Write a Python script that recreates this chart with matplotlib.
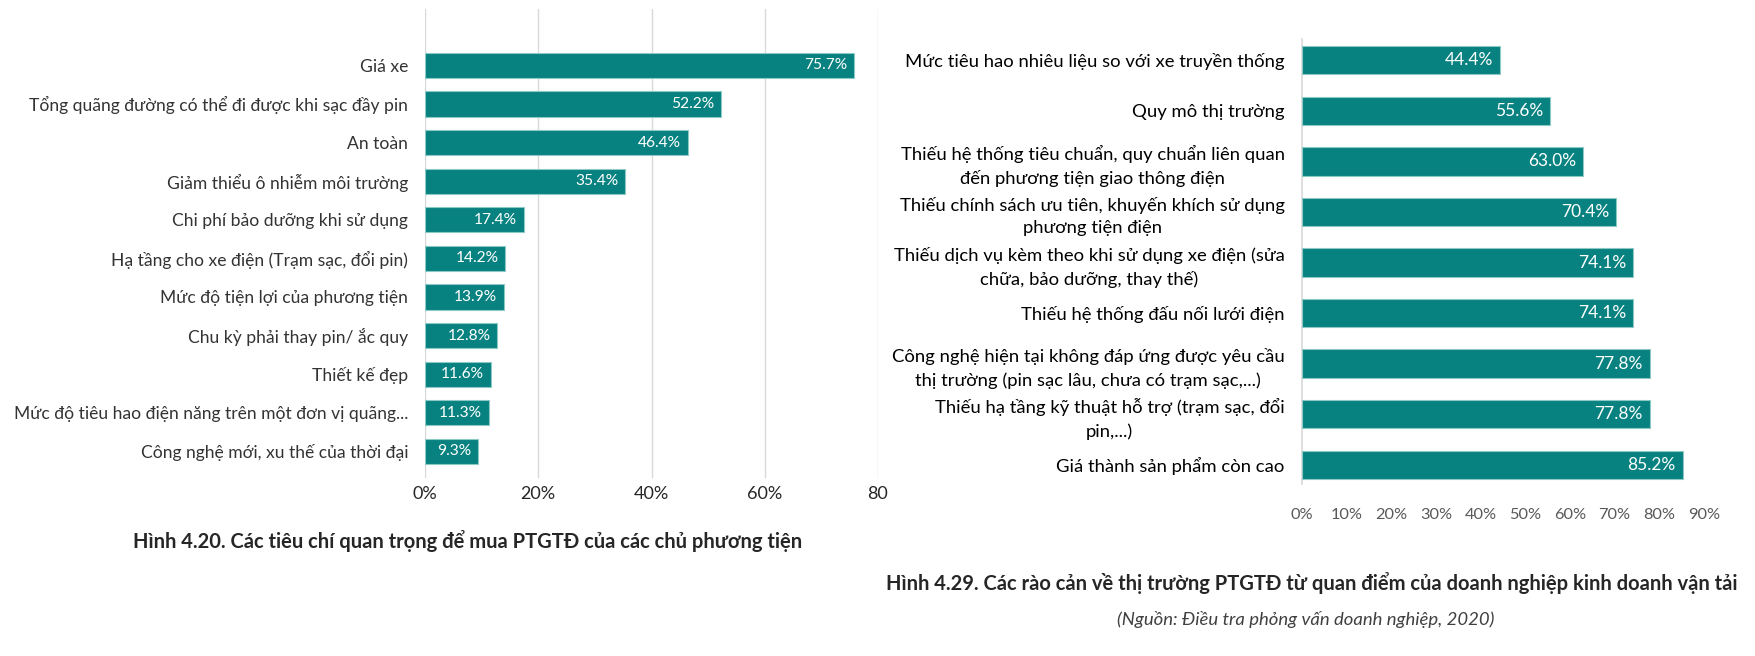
import matplotlib.pyplot as plt

# left chart: criteria for buying an EV
crit_labels = [
    "Giá xe",
    "Tổng quãng đường có thể đi được khi sạc đầy pin",
    "An toàn",
    "Giảm thiểu ô nhiễm môi trường",
    "Chi phí bảo dưỡng khi sử dụng",
    "Hạ tầng cho xe điện (Trạm sạc, đổi pin)",
    "Mức độ tiện lợi của phương tiện",
    "Chu kỳ phải thay pin/ ắc quy",
    "Thiết kế đẹp",
    "Mức độ tiêu hao điện năng trên một đơn vị quãng...",
    "Công nghệ mới, xu thế của thời đại",
]
crit_values = [75.7, 52.2, 46.4, 35.4, 17.4, 14.2, 13.9, 12.8, 11.6, 11.3, 9.3]
left_ticks = [0, 20, 40, 60, 80]
left_ticklabels = ["0%", "20%", "40%", "60%", "80"]

# right chart: market barriers
barrier_labels = [
    "Mức tiêu hao nhiêu liệu so với xe truyền thống",
    "Quy mô thị trường",
    "Thiếu hệ thống tiêu chuẩn, quy chuẩn liên quan\nđến phương tiện giao thông điện",
    "Thiếu chính sách ưu tiên, khuyến khích sử dụng\nphương tiện điện",
    "Thiếu dịch vụ kèm theo khi sử dụng xe điện (sửa\nchữa, bảo dưỡng, thay thế)",
    "Thiếu hệ thống đấu nối lưới điện",
    "Công nghệ hiện tại không đáp ứng được yêu cầu\nthị trường (pin sạc lâu, chưa có trạm sạc,...)",
    "Thiếu hạ tầng kỹ thuật hỗ trợ (trạm sạc, đổi\npin,...)",
    "Giá thành sản phẩm còn cao",
]
barrier_values = [44.4, 55.6, 63.0, 70.4, 74.1, 74.1, 77.8, 77.8, 85.2]
right_ticks = list(range(0, 100, 10))

teal = "#088280"
edge = "#8cc9c5"
grid = "#d9d9d9"
txt = "#333333"
font = "Lato"

W, H = 1756, 656
fig = plt.figure(figsize=(W / 100, H / 100), dpi=100)

# ---- left chart ----
ax1 = fig.add_axes([425 / W, 1 - 478 / H, (878 - 425) / W, (478 - 9) / H])
y1 = list(range(len(crit_labels)))
ax1.barh(y1, crit_values, height=0.65, color=teal, edgecolor=edge, linewidth=0.8, zorder=3)
ax1.set_xlim(0, 80)
ax1.set_ylim(len(crit_labels) - 1 + 0.69, -1.46)
ax1.set_xticks(left_ticks)
ax1.set_xticklabels(left_ticklabels, fontsize=13, family=font, color="#262626")
ax1.set_yticks(y1)
ax1.set_yticklabels(crit_labels, fontsize=12.6, family=font, color=txt)
ax1.tick_params(axis="x", length=0, pad=6)
ax1.tick_params(axis="y", length=0, pad=12)
ax1.grid(axis="x", color=grid, linewidth=1, zorder=0)
for s in ax1.spines.values():
    s.set_visible(False)
for yy, v in zip(y1, crit_values):
    ax1.text(v - 1.2, yy, f"{v:.1f}%", ha="right", va="center", color="white",
             fontsize=11.2, family=font, zorder=4)

# ---- right chart ----
ax2 = fig.add_axes([1302 / W, 1 - 484 / H, (1704 - 1302) / W, (484 - 39) / H])
y2 = list(range(len(barrier_labels)))
ax2.barh(y2, barrier_values, height=0.56, color=teal, edgecolor=edge, linewidth=0.8, zorder=3)
ax2.set_xlim(0, 90)
ax2.set_ylim(len(barrier_labels) - 1 + 0.38, -0.42)
ax2.set_xticks(right_ticks)
ax2.set_xticklabels([f"{t}%" for t in right_ticks], fontsize=11.8, family=font, color="#595959")
ax2.set_yticks(y2)
ax2.set_yticklabels(barrier_labels, fontsize=13.3, family=font, color="black",
                    multialignment="center", linespacing=1.5)
ax2.tick_params(axis="x", length=0, pad=17)
ax2.tick_params(axis="y", length=0, pad=12.5)
for k, s in ax2.spines.items():
    s.set_visible(k == "left")
ax2.spines["left"].set_color(grid)
ax2.spines["left"].set_linewidth(1.2)
for yy, v in zip(y2, barrier_values):
    ax2.text(v - 1.5, yy, f"{v:.1f}%", ha="right", va="center", color="white",
             fontsize=12.5, family=font, zorder=4)

# ---- captions ----
fig.text(468 / W, 1 - 541 / H,
         "Hình 4.20. Các tiêu chí quan trọng để mua PTGTĐ của các chủ phương tiện",
         ha="center", va="center", fontsize=14.5, fontweight="bold", family=font, color="#262626")
fig.text(1312 / W, 1 - 583 / H,
         "Hình 4.29. Các rào cản về thị trường PTGTĐ từ quan điểm của doanh nghiệp kinh doanh vận tải",
         ha="center", va="center", fontsize=14.5, fontweight="bold", family=font, color="#262626")
fig.text(1306 / W, 1 - 619 / H, "(Nguồn: Điều tra phỏng vấn doanh nghiệp, 2020)",
         ha="center", va="center", fontsize=13.3, style="italic", family=font, color="#404040")

fig.savefig("out.png", dpi=100)
